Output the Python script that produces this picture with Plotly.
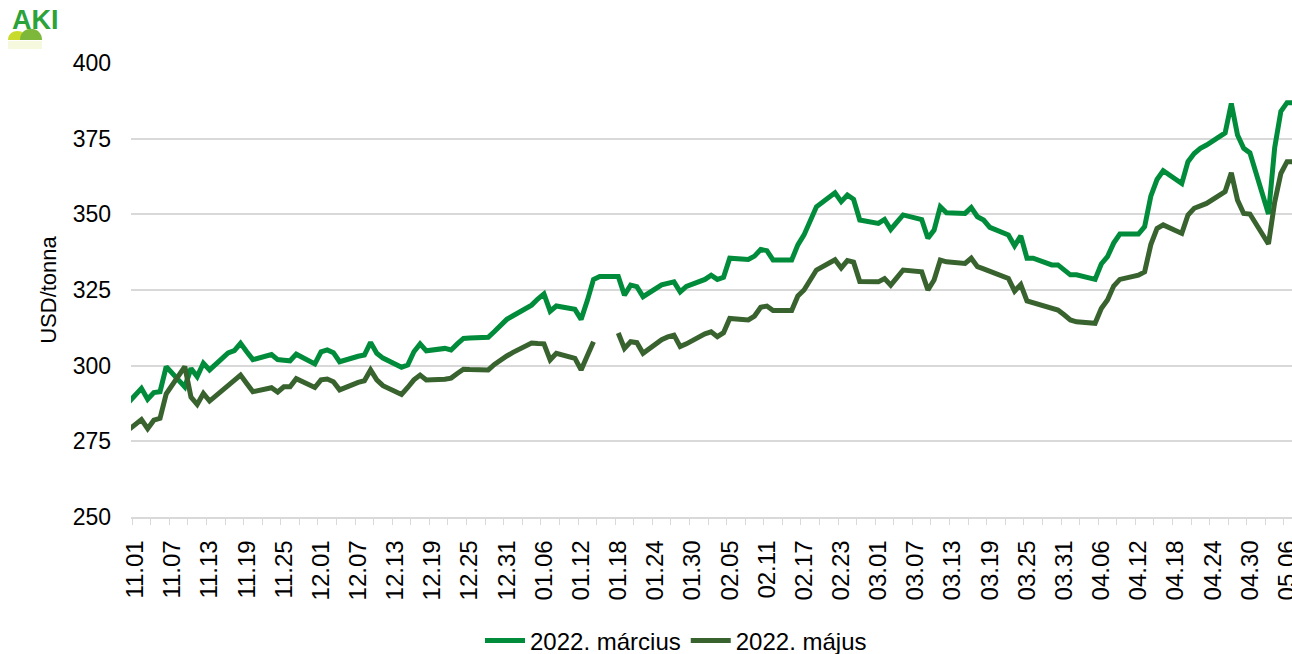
import plotly.graph_objects as go

# ---- data (dates as shown on the chart, daily quotes) ----
dates = [
    "2021-10-30", "2021-11-02", "2021-11-03", "2021-11-04", "2021-11-05", "2021-11-06",
    "2021-11-09", "2021-11-10", "2021-11-11", "2021-11-12", "2021-11-13",
    "2021-11-16", "2021-11-17", "2021-11-18", "2021-11-19", "2021-11-20",
    "2021-11-23", "2021-11-24", "2021-11-25", "2021-11-26", "2021-11-27",
    "2021-11-30", "2021-12-01", "2021-12-02", "2021-12-03", "2021-12-04",
    "2021-12-07", "2021-12-08", "2021-12-09", "2021-12-10", "2021-12-11",
    "2021-12-14", "2021-12-15", "2021-12-16", "2021-12-17", "2021-12-18",
    "2021-12-21", "2021-12-22", "2021-12-23", "2021-12-24", "2021-12-25",
    "2021-12-28", "2021-12-29", "2021-12-30", "2021-12-31", "2022-01-01",
    "2022-01-04", "2022-01-05", "2022-01-06", "2022-01-07", "2022-01-08",
    "2022-01-11", "2022-01-12", "2022-01-13", "2022-01-14", "2022-01-15",
    "2022-01-18", "2022-01-19", "2022-01-20", "2022-01-21", "2022-01-22",
    "2022-01-25", "2022-01-26", "2022-01-27", "2022-01-28", "2022-01-29",
    "2022-02-01", "2022-02-02", "2022-02-03", "2022-02-04", "2022-02-05",
    "2022-02-08", "2022-02-09", "2022-02-10", "2022-02-11", "2022-02-12",
    "2022-02-15", "2022-02-16", "2022-02-17", "2022-02-18", "2022-02-19",
    "2022-02-22", "2022-02-23", "2022-02-24", "2022-02-25", "2022-02-26",
    "2022-03-01", "2022-03-02", "2022-03-03", "2022-03-04", "2022-03-05",
    "2022-03-08", "2022-03-09", "2022-03-10", "2022-03-11", "2022-03-12",
    "2022-03-15", "2022-03-16", "2022-03-17", "2022-03-18", "2022-03-19",
    "2022-03-22", "2022-03-23", "2022-03-24", "2022-03-25", "2022-03-26",
    "2022-03-29", "2022-03-30", "2022-03-31", "2022-04-01", "2022-04-02",
    "2022-04-05", "2022-04-06", "2022-04-07", "2022-04-08", "2022-04-09",
    "2022-04-12", "2022-04-13", "2022-04-14", "2022-04-15", "2022-04-16",
    "2022-04-19", "2022-04-20", "2022-04-21", "2022-04-22", "2022-04-23",
    "2022-04-26", "2022-04-27", "2022-04-28", "2022-04-29", "2022-04-30",
    "2022-05-03", "2022-05-04", "2022-05-05", "2022-05-06", "2022-05-07",
]

marcius_2022 = [
    285.8, 292.5, 288.9, 291.1, 291.4, 299.7,
    293.0, 299.1, 296.4, 300.8, 298.6,
    304.2, 305.0, 307.4, 304.6, 302.0,
    303.7, 302.0, 301.8, 301.6, 303.8,
    300.6, 304.6, 305.2, 304.3, 301.3,
    303.1, 303.5, 307.7, 304.1, 302.5,
    299.5, 300.2, 304.6, 307.2, 304.9,
    305.7, 305.2, 307.2, 309.0, 309.1,
    309.4, 311.3, 313.3, 315.3, 316.5,
    320.0, 322.0, 323.7, 318.0, 319.7,
    318.6, 315.3, 321.5, 328.5, 329.5,
    329.5, 323.3, 326.6, 326.1, 322.8,
    326.7, 327.3, 327.7, 324.4, 326.2,
    328.5, 329.9, 328.5, 329.2, 335.5,
    335.1, 336.2, 338.4, 338.0, 334.9,
    334.9, 339.9, 343.2, 347.8, 352.5,
    357.1, 354.2, 356.4, 355.0, 348.1,
    347.0, 348.3, 345.0, 347.4, 349.8,
    348.3, 342.1, 344.8, 352.5, 350.5,
    350.3, 352.2, 349.2, 348.1, 345.7,
    343.2, 339.6, 342.9, 335.5, 335.5,
    333.3, 333.3, 331.8, 330.0, 330.0,
    328.5, 333.6, 336.0, 340.5, 343.5,
    343.5, 345.9, 356.0, 361.5, 364.4,
    360.2, 367.4, 370.1, 371.8, 372.9,
    376.9, 386.6, 376.2, 371.8, 370.3,
    350.1, 372.0, 384.0, 386.9, 386.9,
]

majus_2022 = [
    277.3, 282.2, 279.2, 282.0, 282.6, 290.7,
    299.7, 289.6, 287.2, 290.8, 288.3,
    293.2, 295.0, 296.9, 294.1, 291.4,
    292.7, 291.3, 293.0, 293.0, 295.7,
    292.8, 295.3, 295.6, 294.7, 292.0,
    294.5, 295.0, 298.6, 295.3, 293.4,
    290.5, 292.8, 295.3, 296.9, 295.3,
    295.5, 295.9, 297.4, 298.8, 298.7,
    298.6, 300.4, 302.0, 303.2, 304.4,
    307.5, 307.3, 307.2, 301.9, 304.1,
    302.4, 298.6, 303.3, 307.9, None,
    310.8, 305.7, 307.9, 307.6, 304.1,
    308.6, 309.5, 310.1, 306.3, 307.2,
    310.5, 311.2, 309.6, 310.9, 315.6,
    315.1, 316.4, 319.3, 319.7, 318.2,
    318.2, 323.0, 325.0, 328.5, 331.6,
    335.0, 332.3, 334.7, 334.2, 327.8,
    327.7, 328.8, 326.6, 329.1, 331.6,
    331.0, 325.0, 328.3, 334.9, 334.3,
    333.8, 335.5, 332.7, 332.0, 331.2,
    328.8, 324.6, 326.8, 321.4, 320.8,
    319.3, 318.4, 316.8, 315.1, 314.5,
    314.0, 318.9, 321.7, 326.3, 328.5,
    329.9, 331.0, 340.0, 345.3, 346.5,
    343.7, 349.8, 352.0, 352.8, 353.6,
    357.5, 363.7, 354.7, 350.3, 350.1,
    340.2, 354.0, 363.5, 367.4, 367.4,
]

series_names = ["2022. március", "2022. május"]
series_colors = ["#008C3A", "#38622E"]

y_ticks = [250, 275, 300, 325, 350, 375, 400]

# ---- layout geometry (pixels) ----
W, H = 1292, 654
L, R, T, B = 131, 0, 63, 137
PW, PH = W - L - R, H - T - B

def px(x):
    return (x - L) / PW

def py(y):
    return (H - B - y) / PH

FONT = "Liberation Sans, Arial, sans-serif"
DAY = 86400000

fig = go.Figure()
for name, vals, col in zip(series_names, [marcius_2022, majus_2022], series_colors):
    fig.add_trace(go.Scatter(
        x=dates, y=vals, name=name, mode="lines",
        line=dict(color=col, width=5),
        connectgaps=False, hoverinfo="skip",
    ))

fig.update_layout(
    width=W, height=H,
    margin=dict(l=L, r=R, t=T, b=B, autoexpand=False),
    paper_bgcolor="white", plot_bgcolor="white",
    font=dict(family=FONT, size=23, color="#000000"),
    showlegend=True,
    legend=dict(
        orientation="h", x=px(676), xanchor="center", y=py(641), yanchor="middle",
        font=dict(size=24, family=FONT, color="#000000"),
        bgcolor="rgba(0,0,0,0)", itemwidth=40, tracegroupgap=0,
    ),
    xaxis=dict(
        type="date",
        range=["2021-10-31 07:30", "2022-05-06 19:10"],
        tickformat="%m.%d", tick0="2021-11-01", dtick=6 * DAY,
        tickangle=-90, ticks="", showgrid=False,
        showline=True, linecolor="#D9D9D9", linewidth=1.5,
        tickfont=dict(size=24, family=FONT, color="#000000"),
        ticklabelstandoff=12, ticklabeloverflow="allow",
        minor=dict(ticks="outside", tick0="2021-10-31 12:00", dtick=3 * DAY,
                   ticklen=6, tickcolor="#D9D9D9", tickwidth=1.3, showgrid=False),
        zeroline=False, fixedrange=True,
    ),
    yaxis=dict(
        range=[250, 400], tickvals=y_ticks, ticktext=[str(v) for v in y_ticks],
        showgrid=True, gridcolor="#D9D9D9", gridwidth=1.5,
        zeroline=False, showline=False, ticks="",
        tickfont=dict(size=23, family=FONT, color="#000000"),
        ticklabelstandoff=19,
        title=dict(text="USD/tonna", font=dict(size=22, family=FONT, color="#000000"), standoff=9),
        fixedrange=True,
    ),
)

# ---- AKI logo (decoration) ----
fig.add_annotation(xref="paper", yref="paper", x=px(35), y=py(20),
                   text="<b>AKI</b>", showarrow=False, xanchor="center", yanchor="middle",
                   font=dict(family=FONT, size=27, color="#2BA23A"))
fig.add_shape(type="path", xref="paper", yref="paper",
              path=f"M {px(8)} {py(40)} C {px(8)} {py(28)}, {px(27)} {py(28)}, {px(27)} {py(40)} Z",
              fillcolor="#C8DA2B", line=dict(width=0), layer="above")
fig.add_shape(type="path", xref="paper", yref="paper",
              path=f"M {px(20)} {py(40)} C {px(20)} {py(25)}, {px(42)} {py(25)}, {px(42)} {py(40)} Z",
              fillcolor="#7DB83A", line=dict(width=0), layer="above")
fig.add_shape(type="rect", xref="paper", yref="paper",
              x0=px(8), x1=px(42), y0=py(49), y1=py(41),
              fillcolor="rgba(200,218,43,0.15)", line=dict(width=0), layer="above")

fig.write_html("out.html", config={"displayModeBar": False},
               post_script="document.body.style.margin='0';")
